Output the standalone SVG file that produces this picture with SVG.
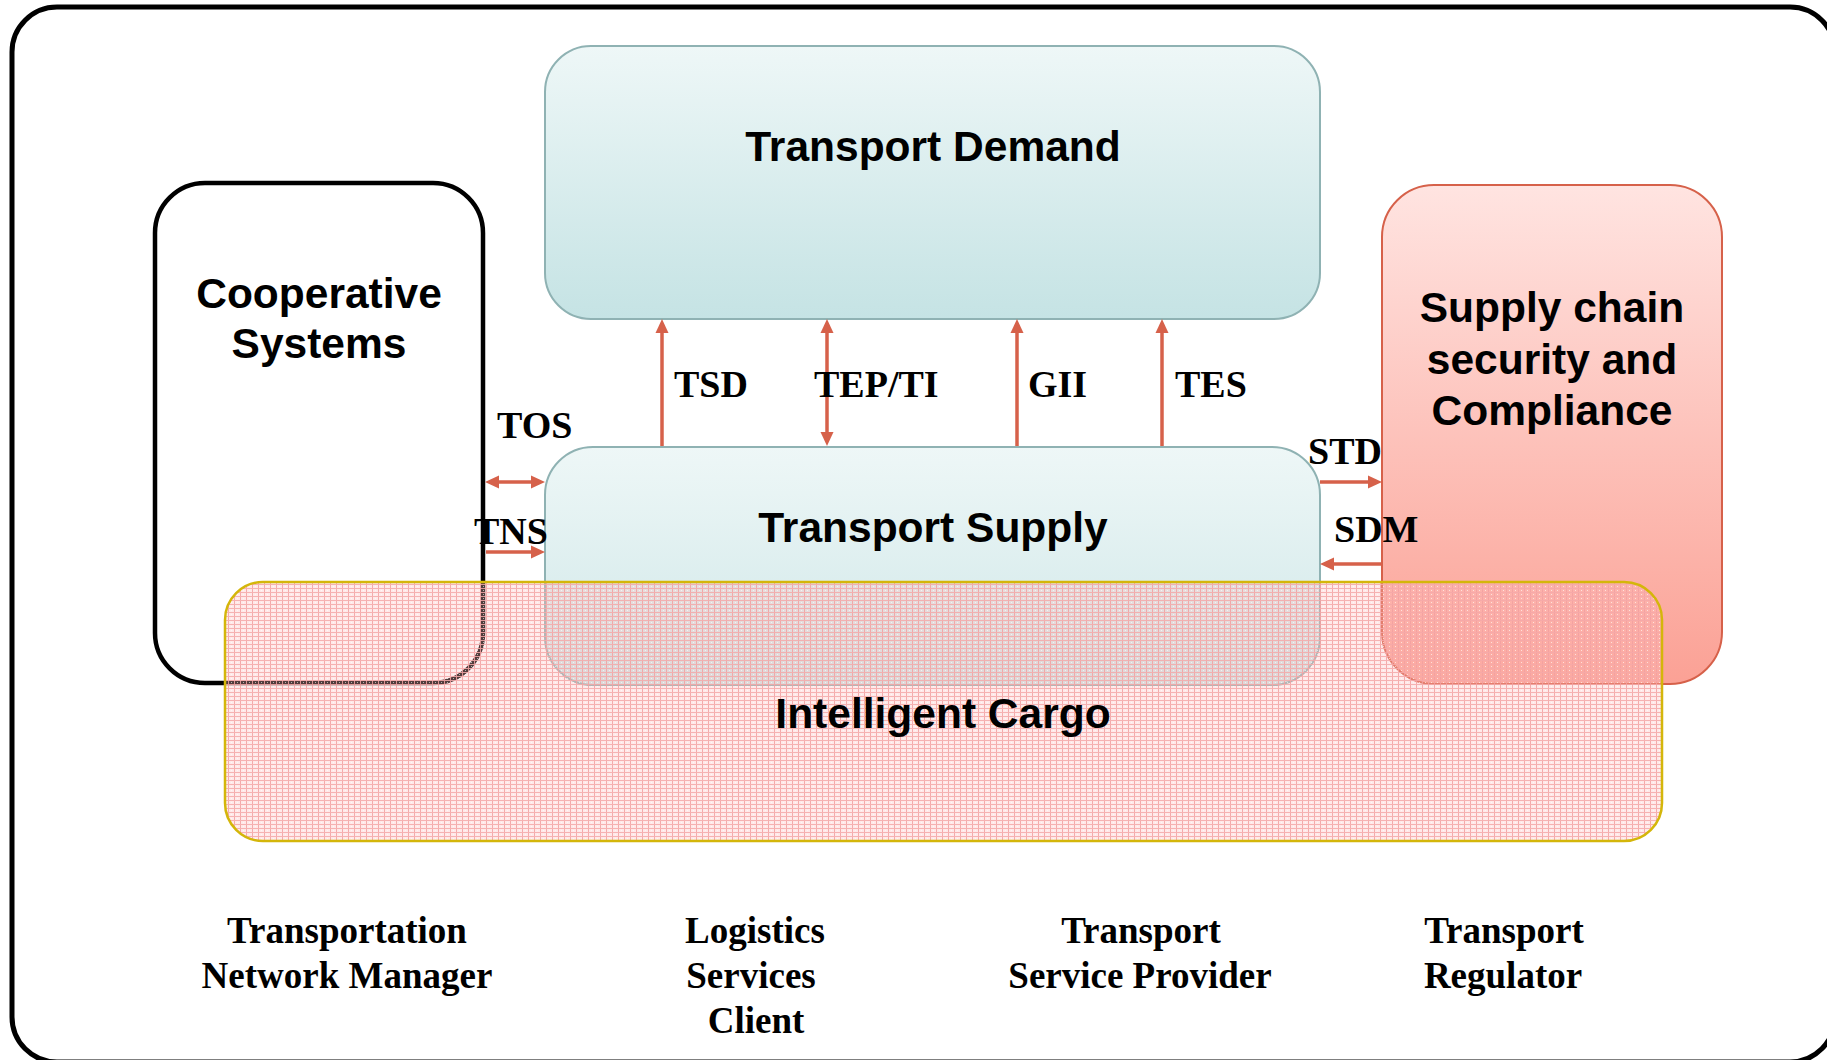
<svg xmlns="http://www.w3.org/2000/svg" width="1827" height="1060" viewBox="0 0 1827 1060">
<style>
.node-title{font-family:"Liberation Sans",Arial,sans-serif;font-weight:bold;font-size:42.5px;fill:#000;text-anchor:middle}
.lbl{font-family:"Liberation Serif","Times New Roman",serif;font-weight:bold;font-size:38px;fill:#000}
.role{font-family:"Liberation Serif","Times New Roman",serif;font-weight:bold;font-size:37px;fill:#000;text-anchor:middle}
.conn{stroke:#D6614A;stroke-width:3.5;fill:none}
.teal{stroke:#8FB2B3;stroke-width:2}
</style>
<defs>
<linearGradient id="tealGrad" x1="0" y1="0" x2="0" y2="1">
<stop offset="0" stop-color="#EEF7F7"/>
<stop offset="1" stop-color="#C5E3E4"/>
</linearGradient>
<linearGradient id="tealGrad2" x1="0" y1="0" x2="0" y2="1">
<stop offset="0" stop-color="#EEF7F7"/>
<stop offset="1" stop-color="#CFE7E8"/>
</linearGradient>
<linearGradient id="salmonGrad" x1="0" y1="0" x2="0" y2="1">
<stop offset="0" stop-color="#FFE4E1"/>
<stop offset="1" stop-color="#FBA195"/>
</linearGradient>
<pattern id="grid" width="6" height="4" patternUnits="userSpaceOnUse">
<rect width="6" height="4" fill="#FFBCBC" fill-opacity="0.32"/>
<rect x="0" y="0" width="6" height="1" fill="#F5A8A8" fill-opacity="0.85"/>
<rect x="0" y="1" width="1" height="3" fill="#F2A0A0" fill-opacity="0.85"/>
<rect x="3" y="2" width="1" height="1" fill="#FFFFFF" fill-opacity="0.6"/>
</pattern>
<marker id="ah" markerWidth="14" markerHeight="14" refX="4" refY="7" orient="auto-start-reverse" markerUnits="userSpaceOnUse">
<path d="M0,0.5 L14,7 L0,13.5 z" fill="#D6614A"/>
</marker>
</defs>

<rect id="frame" x="12" y="7" width="1823" height="1055" rx="45" fill="#FFFFFF" stroke="#000" stroke-width="5"/>

<g id="transport-demand">
<rect x="545" y="46" width="775" height="273" rx="46" fill="url(#tealGrad)" class="teal"/>
<text class="node-title" x="933" y="161">Transport Demand</text>
</g>

<g id="transport-supply">
<rect x="545" y="447" width="775" height="238" rx="48" fill="url(#tealGrad2)" class="teal"/>
<text class="node-title" x="933" y="542">Transport Supply</text>
</g>

<g id="cooperative-systems">
<rect x="155" y="183" width="328" height="500" rx="50" fill="#FFFFFF" stroke="#000" stroke-width="4.5"/>
<text class="node-title" x="319" y="308">Cooperative</text>
<text class="node-title" x="319" y="358">Systems</text>
</g>

<g id="supply-chain-security">
<rect x="1382" y="185" width="340" height="499" rx="52" fill="url(#salmonGrad)" stroke="#D6614A" stroke-width="2"/>
<text class="node-title" x="1552" y="322">Supply chain</text>
<text class="node-title" x="1552" y="374">security and</text>
<text class="node-title" x="1552" y="425">Compliance</text>
</g>

<g id="connectors">
<line class="conn" x1="662" y1="446" x2="662" y2="329" marker-end="url(#ah)"/>
<line class="conn" x1="827" y1="436" x2="827" y2="329" marker-start="url(#ah)" marker-end="url(#ah)"/>
<line class="conn" x1="1017" y1="446" x2="1017" y2="329" marker-end="url(#ah)"/>
<line class="conn" x1="1162" y1="446" x2="1162" y2="329" marker-end="url(#ah)"/>
<line class="conn" x1="495" y1="482" x2="535" y2="482" marker-start="url(#ah)" marker-end="url(#ah)"/>
<line class="conn" x1="486" y1="552" x2="535" y2="552" marker-end="url(#ah)"/>
<line class="conn" x1="1320" y1="482" x2="1372" y2="482" marker-end="url(#ah)"/>
<line class="conn" x1="1382" y1="564" x2="1330" y2="564" marker-end="url(#ah)"/>
<text class="lbl" x="674" y="397">TSD</text>
<text class="lbl" x="814" y="397">TEP/TI</text>
<text class="lbl" x="1028" y="397">GII</text>
<text class="lbl" x="1175" y="397">TES</text>
<text class="lbl" x="497" y="438">TOS</text>
<text class="lbl" x="474" y="544">TNS</text>
<text class="lbl" x="1308" y="464">STD</text>
<text class="lbl" x="1334" y="542">SDM</text>
</g>

<g id="intelligent-cargo">
<rect x="225" y="582" width="1437" height="259" rx="38" fill="url(#grid)"/>
<rect x="225" y="582" width="1437" height="259" rx="38" fill="none" stroke="#D4B60A" stroke-width="2.5"/>
<text class="node-title" x="943" y="728">Intelligent Cargo</text>
</g>

<g id="roles">
<text class="role" x="347" y="943">Transportation</text>
<text class="role" x="347" y="988">Network Manager</text>
<text class="role" x="755" y="943">Logistics</text>
<text class="role" x="751" y="988">Services</text>
<text class="role" x="756" y="1033">Client</text>
<text class="role" x="1141" y="943">Transport</text>
<text class="role" x="1140" y="988">Service Provider</text>
<text class="role" x="1504" y="943">Transport</text>
<text class="role" x="1503" y="988">Regulator</text>
</g>
</svg>
